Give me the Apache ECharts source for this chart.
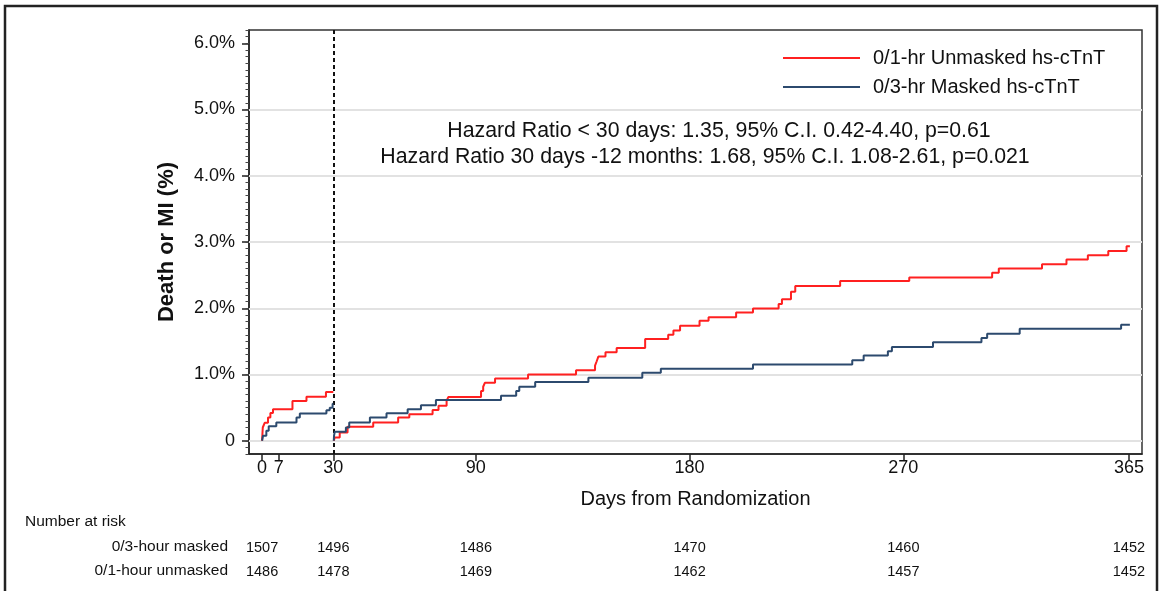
<!DOCTYPE html>
<html>
<head>
<meta charset="utf-8">
<title>Death or MI by strategy</title>
<script src="https://cdn.jsdelivr.net/npm/echarts@6/dist/echarts.min.js"></script>
<style>
  html, body { margin: 0; padding: 0; background: #fff; }
  #main { width: 1162px; height: 591px; }
</style>
</head>
<body>
<div id="main"></div>
<script>
// cumulative incidence (%), [day, percent]
var redEarly = [[0, 0], [0.3, 0.2], [1.1, 0.27], [2.5, 0.35], [3.5, 0.42], [4.6, 0.475],
  [12.8, 0.6], [18.7, 0.665], [26.9, 0.735], [30, 0.735]];
var redLate = [[30.2, 0], [30.6, 0.05], [32.7, 0.125], [36, 0.21], [46.8, 0.275], [57.3, 0.35],
  [62, 0.4], [71.8, 0.465], [74.3, 0.53], [77.7, 0.6], [78.4, 0.66], [92.2, 0.75], [93.1, 0.815],
  [93.8, 0.875], [98.1, 0.94], [112, 1.0], [132.2, 1.065], [140.2, 1.135], [140.9, 1.2],
  [141.6, 1.27], [144.6, 1.335], [149.3, 1.4], [161.3, 1.535], [171, 1.6], [173.2, 1.665],
  [176, 1.735], [184.2, 1.81], [188, 1.865], [199.6, 1.935], [206.7, 1.995], [217.5, 2.065],
  [218.9, 2.135], [222.7, 2.25], [224.5, 2.335], [243.4, 2.41], [272.5, 2.465], [307.4, 2.535],
  [310.2, 2.6], [328.4, 2.665], [338.7, 2.735], [347.7, 2.8], [356.3, 2.865], [364, 2.935],
  [365.4, 2.935]];
var blueEarly = [[0, 0], [0.4, 0.075], [1.8, 0.15], [2.8, 0.22], [6, 0.275], [14.5, 0.35],
  [15.9, 0.41], [27.1, 0.46], [28.5, 0.5], [29.7, 0.56], [30, 0.56]];
var blueLate = [[30.2, 0], [30.3, 0.075], [30.6, 0.135], [35.3, 0.2], [36.7, 0.275], [45.4, 0.35],
  [52.4, 0.415], [61.3, 0.475], [66.9, 0.535], [73.2, 0.615], [100.6, 0.68], [107, 0.75],
  [108.3, 0.815], [115, 0.885], [137.4, 0.95], [160.1, 1.025], [167.9, 1.085], [206.7, 1.15],
  [248.5, 1.215], [253.3, 1.285], [263.5, 1.35], [265.2, 1.415], [282.5, 1.485], [302.9, 1.55],
  [305.3, 1.615], [319, 1.69], [361.7, 1.75], [365.4, 1.75]];

var xTicks = [0, 7, 30, 90, 180, 270, 365];
var yTicks = [0, 1, 2, 3, 4, 5, 6];
var gridVals = [0, 1, 2, 3, 4, 5];
var riskDays = [0, 30, 90, 180, 270, 365];
var riskMasked = [1507, 1496, 1486, 1470, 1460, 1452];
var riskUnmasked = [1486, 1478, 1469, 1462, 1457, 1452];
var names = ['0/1-hr Unmasked hs-cTnT', '0/3-hr Masked hs-cTnT'];
var hrLines = [
  'Hazard Ratio < 30 days: 1.35, 95% C.I. 0.42-4.40, p=0.61',
  'Hazard Ratio 30 days -12 months: 1.68, 95% C.I. 1.08-2.61, p=0.021'
];

var RED = '#ff2020';
var BLUE = '#2c4a6e';
var FONT = 'Liberation Sans, Arial, Helvetica, sans-serif';
var LINE_ICON = 'path://M0,0 L77,0 L77,2 L0,2 Z';

var chart = echarts.init(document.getElementById('main'));

function riskAxis(offset, values) {
  return {
    type: 'value', position: 'bottom', min: -5.5, max: 370.5, offset: offset,
    axisLine: { show: false, onZero: false }, axisTick: { show: false }, splitLine: { show: false },
    axisLabel: {
      customValues: riskDays, margin: 0, fontSize: 14.5, fontFamily: FONT, color: '#111',
      formatter: function (v) { return String(values[riskDays.indexOf(v)]); }
    }
  };
}

function curve(name, data, color) {
  return {
    name: name, type: 'line', step: 'end', data: data, symbol: 'none',
    xAxisIndex: 0, yAxisIndex: 0, z: 5,
    lineStyle: { color: color, width: 2 }, itemStyle: { color: color },
    animation: false
  };
}

function label(text, x, y, align, size) {
  return { type: 'text', x: x, y: y, silent: true,
    style: { text: text, textAlign: align, textVerticalAlign: 'middle', fontSize: size, fontFamily: FONT, fill: '#111' } };
}

var option = {
  animation: false,
  grid: { left: 249, right: 20, top: 30, bottom: 137, show: true, borderColor: '#333', borderWidth: 1.5 },
  legend: {
    data: names.map(function (n) { return { name: n, icon: LINE_ICON }; }),
    orient: 'vertical', left: 783, top: 48, padding: 0,
    itemWidth: 77, itemHeight: 20, itemGap: 9,
    textStyle: { fontSize: 20, fontFamily: FONT, color: '#111', padding: [0, 0, 0, 8] }
  },
  xAxis: [{
    type: 'value', min: -5.5, max: 370.5,
    axisLine: { show: true, onZero: false, lineStyle: { color: '#222', width: 1.5 } },
    axisTick: { show: true, customValues: xTicks, length: 7, lineStyle: { color: '#222', width: 1.5 } },
    axisLabel: { customValues: xTicks, margin: 5, fontSize: 18, fontFamily: FONT, color: '#111' },
    splitLine: { show: false },
    name: 'Days from Randomization', nameLocation: 'middle', nameGap: 35,
    nameTextStyle: { fontSize: 20, fontFamily: FONT, color: '#111' }
  }, riskAxis(86, riskMasked), riskAxis(110, riskUnmasked)],
  yAxis: [{
    type: 'value', min: -0.2, max: 6.2,
    axisLine: { show: true, onZero: false, lineStyle: { color: '#222', width: 1.5 } },
    axisTick: { show: true, customValues: yTicks, length: 7, lineStyle: { color: '#222', width: 1.5 } },
    axisLabel: {
      customValues: yTicks, margin: 14, fontSize: 18, fontFamily: FONT, color: '#111',
      formatter: function (v) { return v === 0 ? '0' : v.toFixed(1) + '%'; }
    },
    splitLine: { show: false },
    name: 'Death or MI (%)', nameLocation: 'middle', nameGap: 71,
    nameTextStyle: { fontSize: 22, fontWeight: 'bold', fontFamily: FONT, color: '#111' }
  }, {
    type: 'value', position: 'left', min: -0.2, max: 6.2, interval: 0.1,
    axisLine: { show: false, onZero: false },
    axisTick: { show: true, length: 3.5, lineStyle: { color: '#444', width: 1 } },
    axisLabel: { show: false }, splitLine: { show: false }
  }],
  series: [{
    type: 'line', data: [], z: 1, silent: true,
    markLine: {
      silent: true, symbol: 'none', label: { show: false }, animation: false,
      lineStyle: { color: '#e2e2e2', width: 2, type: 'solid' },
      data: gridVals.map(function (v) { return { yAxis: v }; })
    }
  }, {
    type: 'line', data: [], z: 6, silent: true,
    markLine: {
      silent: true, symbol: 'none', label: { show: false }, animation: false,
      lineStyle: { color: '#111', width: 2, type: [4, 3] },
      data: [{ xAxis: 30 }]
    }
  },
    curve(names[0], redEarly, RED),
    curve(names[0], redLate, RED),
    curve(names[1], blueEarly, BLUE),
    curve(names[1], blueLate, BLUE)
  ],
  graphic: [
    { type: 'rect', silent: true, shape: { x: 5, y: 6, width: 1152, height: 620 },
      style: { fill: 'none', stroke: '#222', lineWidth: 2.5 } },
    label(hrLines[0], 719, 131, 'center', 21.3),
    label(hrLines[1], 705, 157, 'center', 21.3),
    label('Number at risk', 25, 522, 'left', 15.5),
    label('0/3-hour masked', 228, 547, 'right', 15.5),
    label('0/1-hour unmasked', 228, 571, 'right', 15.5)
  ]
};

chart.setOption(option);
</script>
</body>
</html>
